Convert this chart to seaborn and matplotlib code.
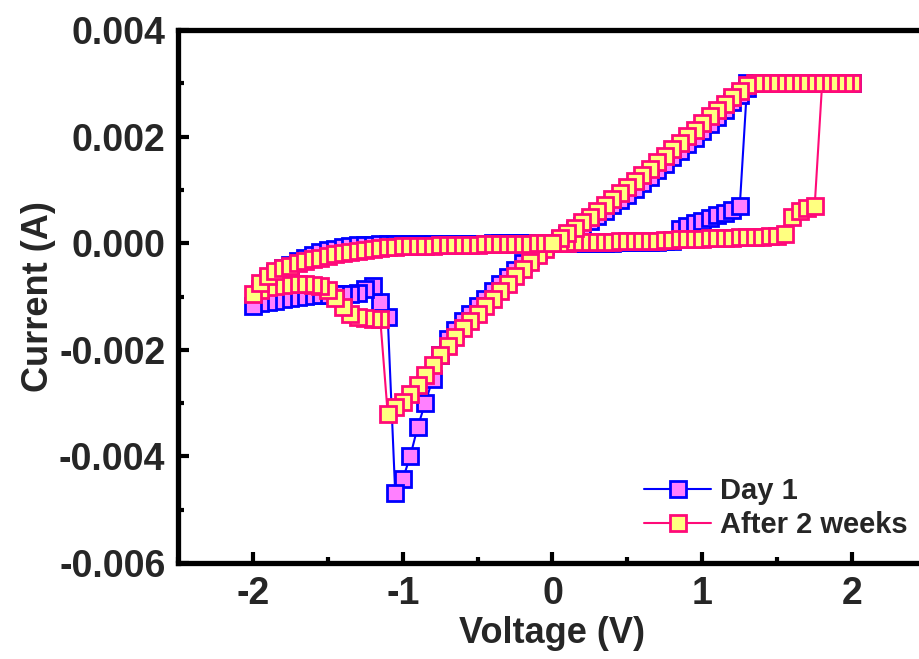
import matplotlib
matplotlib.use('Agg')
import matplotlib.pyplot as plt
from matplotlib.ticker import MultipleLocator, FormatStrFormatter
import seaborn as sns
import pandas as pd

# voltage sweep (V): 0 -> +2 -> 0 -> -2 -> 0
sweep_up = [0.00, 0.05, 0.10, 0.15, 0.20, 0.25, 0.30, 0.35, 0.40, 0.45,
            0.50, 0.55, 0.60, 0.65, 0.70, 0.75, 0.80, 0.85, 0.90, 0.95,
            1.00, 1.05, 1.10, 1.15, 1.20, 1.25, 1.30, 1.35, 1.40, 1.45,
            1.50, 1.55, 1.60, 1.65, 1.70, 1.75, 1.80, 1.85, 1.90, 1.95, 2.00]
sweep_down = [1.95, 1.90, 1.85, 1.80, 1.75, 1.70, 1.65, 1.60, 1.55, 1.50,
              1.45, 1.40, 1.35, 1.30, 1.25, 1.20, 1.15, 1.10, 1.05, 1.00,
              0.95, 0.90, 0.85, 0.80, 0.75, 0.70, 0.65, 0.60, 0.55, 0.50,
              0.45, 0.40, 0.35, 0.30, 0.25, 0.20, 0.15, 0.10, 0.05, 0.00]
sweep_neg = [-0.05, -0.10, -0.15, -0.20, -0.25, -0.30, -0.35, -0.40, -0.45, -0.50,
             -0.55, -0.60, -0.65, -0.70, -0.75, -0.80, -0.85, -0.90, -0.95, -1.00,
             -1.05, -1.10, -1.15, -1.20, -1.25, -1.30, -1.35, -1.40, -1.45, -1.50,
             -1.55, -1.60, -1.65, -1.70, -1.75, -1.80, -1.85, -1.90, -1.95, -2.00]
sweep_back = [-1.95, -1.90, -1.85, -1.80, -1.75, -1.70, -1.65, -1.60, -1.55, -1.50,
              -1.45, -1.40, -1.35, -1.30, -1.25, -1.20, -1.15, -1.10, -1.05, -1.00,
              -0.95, -0.90, -0.85, -0.80, -0.75, -0.70, -0.65, -0.60, -0.55, -0.50,
              -0.45, -0.40, -0.35, -0.30, -0.25, -0.20, -0.15, -0.10, -0.05, 0.00]
voltage = sweep_up + sweep_down + sweep_neg + sweep_back

# current (mA), same order as the sweep
day1_up = [0, 0, 0, 0.01, 0.01, 0.01, 0.01, 0.01, 0.01, 0.02,
           0.02, 0.02, 0.02, 0.03, 0.03, 0.04, 0.05, 0.27, 0.32, 0.37,
           0.42, 0.47, 0.52, 0.57, 0.63, 0.69, 3.0, 3.0, 3.0, 3.0,
           3.0, 3.0, 3.0, 3.0, 3.0, 3.0, 3.0, 3.0, 3.0, 3.0, 3.0]
day1_down = [3.0, 3.0, 3.0, 3.0, 3.0, 3.0, 3.0, 3.0, 3.0, 3.0,
             3.0, 3.0, 3.0, 2.92, 2.78, 2.64, 2.50, 2.37, 2.24, 2.11,
             1.98, 1.86, 1.73, 1.61, 1.49, 1.37, 1.25, 1.13, 1.02, 0.91,
             0.81, 0.71, 0.61, 0.51, 0.42, 0.33, 0.24, 0.16, 0.08, 0]
day1_neg = [-0.06, -0.14, -0.25, -0.37, -0.50, -0.63, -0.77, -0.90, -1.04, -1.18,
            -1.32, -1.46, -1.62, -1.80, -2.10, -2.55, -3.00, -3.45, -4.00, -4.43,
            -4.69, -1.38, -1.10, -0.80, -0.86, -0.93, -0.95, -0.96, -0.96, -0.97,
            -0.97, -0.98, -0.99, -1.00, -1.02, -1.05, -1.08, -1.10, -1.13, -1.17]
day1_back = [-0.85, -0.68, -0.56, -0.47, -0.40, -0.33, -0.27, -0.22, -0.17, -0.13,
             -0.10, -0.07, -0.05, -0.04, -0.03, -0.03, -0.02, -0.02, -0.02, -0.02,
             -0.02, -0.01, -0.01, -0.01, -0.01, -0.01, -0.01, -0.01, -0.01, -0.01,
             -0.01, 0, 0, 0, 0, 0, 0, 0, 0, 0]

weeks_up = [0, 0.01, 0.01, 0.02, 0.02, 0.02, 0.03, 0.03, 0.03, 0.04,
            0.04, 0.04, 0.05, 0.05, 0.05, 0.06, 0.06, 0.07, 0.07, 0.08,
            0.08, 0.09, 0.09, 0.10, 0.10, 0.11, 0.11, 0.12, 0.12, 0.13,
            0.13, 0.18, 0.50, 0.60, 0.66, 0.69, 3.0, 3.0, 3.0, 3.0, 3.0]
weeks_down = [3.0, 3.0, 3.0, 3.0, 3.0, 3.0, 3.0, 3.0, 3.0, 3.0,
              3.0, 3.0, 3.0, 2.96, 2.86, 2.74, 2.62, 2.50, 2.38, 2.26,
              2.13, 2.01, 1.88, 1.76, 1.64, 1.52, 1.40, 1.28, 1.16, 1.05,
              0.94, 0.83, 0.72, 0.61, 0.50, 0.40, 0.29, 0.19, 0.09, 0]
weeks_neg = [-0.10, -0.22, -0.35, -0.48, -0.62, -0.76, -0.90, -1.04, -1.18, -1.32,
             -1.46, -1.60, -1.76, -1.92, -2.10, -2.29, -2.48, -2.66, -2.83, -2.98,
             -3.07, -3.20, -1.42, -1.42, -1.41, -1.38, -1.32, -1.20, -1.02, -0.87,
             -0.81, -0.79, -0.77, -0.77, -0.77, -0.78, -0.80, -0.83, -0.88, -0.95]
weeks_back = [-0.75, -0.62, -0.53, -0.47, -0.42, -0.38, -0.34, -0.30, -0.27, -0.24,
              -0.21, -0.19, -0.16, -0.14, -0.12, -0.10, -0.09, -0.08, -0.07, -0.06,
              -0.06, -0.05, -0.05, -0.05, -0.04, -0.04, -0.04, -0.03, -0.03, -0.03,
              -0.02, -0.02, -0.02, -0.01, -0.01, -0.01, -0.01, 0, 0, 0]

day1 = pd.DataFrame({'Voltage': voltage,
                     'Current': [i * 1e-3 for i in day1_up + day1_down + day1_neg + day1_back]})
weeks = pd.DataFrame({'Voltage': voltage,
                      'Current': [i * 1e-3 for i in weeks_up + weeks_down + weeks_neg + weeks_back]})

sns.set_style('ticks')
plt.rcParams['font.family'] = ['Liberation Sans', 'DejaVu Sans']
plt.rcParams['font.weight'] = 'bold'
plt.rcParams['axes.labelweight'] = 'bold'

fig = plt.figure(figsize=(9.2, 6.59), dpi=100)
ax = fig.add_axes([178 / 920, 96 / 659, 749 / 920, 533 / 659])

sns.lineplot(data=day1, x='Voltage', y='Current', sort=False, estimator=None,
             color='#0000FF', lw=1.5, marker='s', ms=11.5, mfc='#FF80FF',
             mec='#0000FF', mew=2.0, label='Day 1', ax=ax)
sns.lineplot(data=weeks, x='Voltage', y='Current', sort=False, estimator=None,
             color='#FF0A78', lw=1.5, marker='s', ms=11.5, mfc='#FFFF80',
             mec='#FF0A78', mew=2.0, label='After 2 weeks', ax=ax)

ax.set_xlim(-2.5, 2.5)
ax.set_ylim(-0.006, 0.004)
ax.xaxis.set_major_locator(MultipleLocator(1))
ax.xaxis.set_minor_locator(MultipleLocator(0.5))
ax.yaxis.set_major_locator(MultipleLocator(0.002))
ax.yaxis.set_minor_locator(MultipleLocator(0.001))
ax.xaxis.set_major_formatter(FormatStrFormatter('%d'))
ax.yaxis.set_major_formatter(FormatStrFormatter('%.3f'))

for side in ['left', 'bottom', 'top', 'right']:
    ax.spines[side].set_linewidth(3.8)
    ax.spines[side].set_color('black')
ax.tick_params(which='both', direction='in', top=False, right=False,
               width=3, color='black')
ax.tick_params(which='major', length=8, pad=9, labelsize=27)
ax.tick_params(which='minor', length=4)

ax.set_xlabel('Voltage (V)', fontsize=26, fontweight='bold', labelpad=3)
ax.set_ylabel('Current (A)', fontsize=26, fontweight='bold', labelpad=2)

ax.legend(loc='upper left', bbox_to_anchor=(644 / 920, 1 - 477 / 659),
          bbox_transform=fig.transFigure, frameon=False,
          borderpad=0, borderaxespad=0, labelspacing=0.2,
          handlelength=2.3, handletextpad=0.3,
          prop={'weight': 'bold', 'size': 21})

fig.savefig('out.png', dpi=100)
